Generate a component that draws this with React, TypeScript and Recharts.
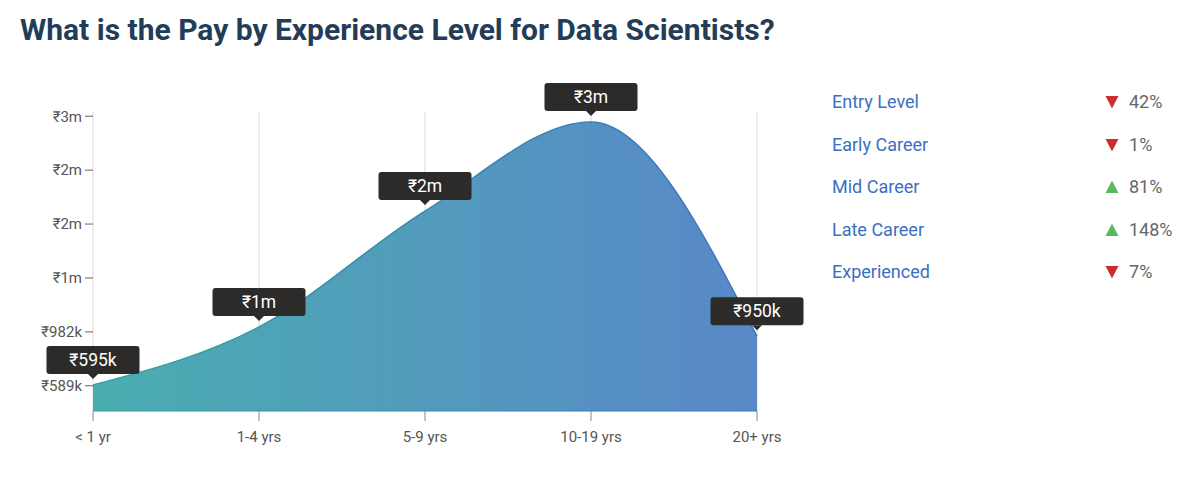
import { Area, AreaChart, CartesianGrid, LabelList, XAxis, YAxis } from "recharts";

const levels = ["< 1 yr", "1-4 yrs", "5-9 yrs", "10-19 yrs", "20+ yrs"];
const pay = [595000, 1018000, 1863000, 2513000, 950000];
const yTicks = [589000, 982000, 1375000, 1768000, 2161000, 2554000];

const stageNames = ["Entry Level", "Early Career", "Mid Career", "Late Career", "Experienced"];
const stageChange = [42, 1, 81, 148, 7];
const stageUp = [false, false, true, true, false];

const FONT = "Roboto, 'Noto Sans', sans-serif";

const money = (v: number) =>
  v >= 1000000 ? `₹${Math.round(v / 1000000)}m` : `₹${Math.round(v / 1000)}k`;

function PayTag(props: any) {
  const { x, y, value } = props;
  if (x == null || y == null) return null;
  const w = 93;
  const h = 28;
  const bottom = y - 11;
  return (
    <g>
      <rect x={x - w / 2} y={bottom - h} width={w} height={h} rx={3} fill="#2d2a2a" />
      <path d={`M${x - 5},${bottom} L${x + 5},${bottom} L${x},${bottom + 5} Z`} fill="#2d2a2a" />
      <text
        x={x}
        y={bottom - h / 2}
        textAnchor="middle"
        dominantBaseline="central"
        fill="#fff"
        fontSize={17.5}
        fontFamily={FONT}
      >
        {money(value)}
      </text>
    </g>
  );
}

function Arrow({ up }: { up: boolean }) {
  return (
    <svg width={14} height={14} style={{ position: "absolute", left: 273, top: 6 }}>
      {up ? (
        <path d="M7,0.5 L13.5,13 L0.5,13 Z" fill="#5cb85c" />
      ) : (
        <path d="M0.5,1 L13.5,1 L7,13.5 Z" fill="#c9302c" />
      )}
    </svg>
  );
}

export default function App() {
  const data = levels.map((level, i) => ({ level, pay: pay[i] }));
  const tickStyle = { fill: "#555", fontSize: 15, fontFamily: FONT };

  return (
    <div style={{ position: "absolute", left: 0, top: 0, width: 1191, height: 485, fontFamily: FONT, background: "#fff" }}>
      <div
        style={{
          position: "absolute",
          left: 20,
          top: 11,
          fontSize: 30,
          lineHeight: "38px",
          fontWeight: 700,
          color: "#233d59",
          whiteSpace: "nowrap",
        }}
      >
        What is the Pay by Experience Level for Data Scientists?
      </div>

      <div style={{ position: "absolute", left: 0, top: 0 }}>
        <AreaChart width={820} height={470} data={data} margin={{ top: 112, right: 63, left: 0, bottom: 29 }}>
          <defs>
            <linearGradient id="payFill" x1="0" y1="0" x2="1" y2="0">
              <stop offset="0%" stopColor="#42aaad" />
              <stop offset="100%" stopColor="#5383c6" />
            </linearGradient>
            <linearGradient id="payEdge" gradientUnits="userSpaceOnUse" x1="93" y1="0" x2="757" y2="0">
              <stop offset="0%" stopColor="#35a0a3" />
              <stop offset="100%" stopColor="#3c72bd" />
            </linearGradient>
          </defs>
          <CartesianGrid horizontal={false} stroke="#d9d9d9" />
          <XAxis
            dataKey="level"
            tick={tickStyle}
            tickLine={{ stroke: "#888" }}
            tickSize={10}
            tickMargin={10}
            axisLine={{ stroke: "url(#payEdge)" }}
            height={30}
            interval={0}
          />
          <YAxis
            type="number"
            domain={[405000, 2585000]}
            ticks={yTicks}
            tickFormatter={money}
            tick={tickStyle}
            tickLine={{ stroke: "#666" }}
            tickSize={8}
            tickMargin={3}
            axisLine={false}
            width={93}
            allowDataOverflow
          />
          <Area
            type="monotone"
            dataKey="pay"
            stroke="url(#payEdge)"
            strokeWidth={1.5}
            fill="url(#payFill)"
            fillOpacity={0.96}
            isAnimationActive={false}
            dot={false}
            activeDot={false}
          >
            <LabelList dataKey="pay" content={PayTag} />
          </Area>
        </AreaChart>
      </div>

      {stageNames.map((name, i) => (
        <div
          key={name}
          style={{ position: "absolute", left: 832, top: 89 + i * 42.5, height: 26, width: 350, fontSize: 18, lineHeight: "26px" }}
        >
          <span style={{ color: "#3a6fc2" }}>{name}</span>
          <Arrow up={stageUp[i]} />
          <span style={{ position: "absolute", left: 297, top: 0, color: "#666" }}>{stageChange[i]}%</span>
        </div>
      ))}
    </div>
  );
}
